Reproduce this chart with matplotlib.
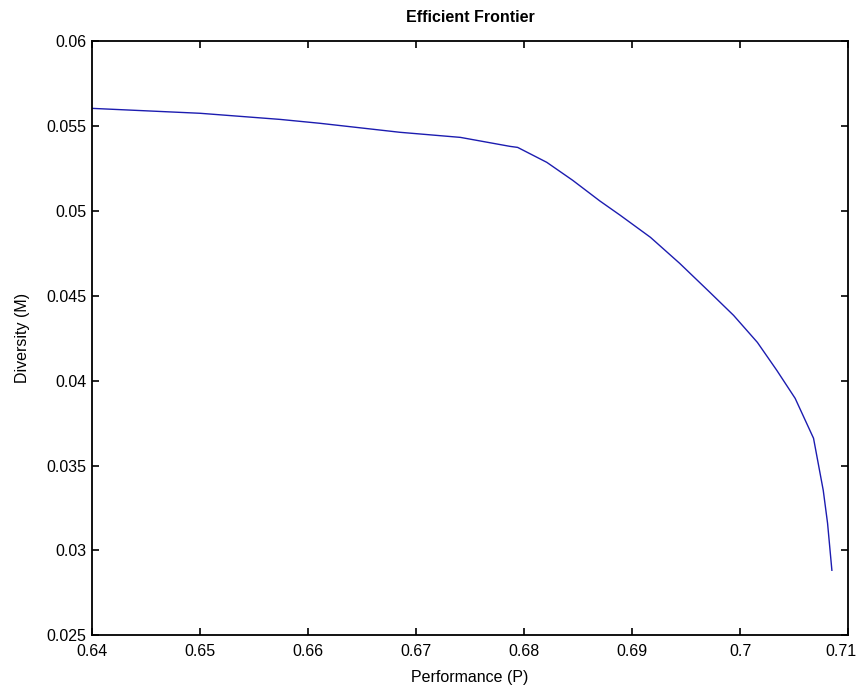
import matplotlib
matplotlib.use("Agg")
import matplotlib.pyplot as plt
from matplotlib.transforms import ScaledTranslation

# frontier
performance = [0.6400, 0.6500, 0.6574, 0.6611, 0.6685, 0.6741, 0.6787, 0.6794,
               0.6821, 0.6845, 0.6870, 0.6889, 0.6917, 0.6944, 0.6972, 0.6994,
               0.7016, 0.7034, 0.7051, 0.7068, 0.7077, 0.7081, 0.7085]
diversity = [0.05605, 0.05576, 0.05540, 0.05517, 0.05464, 0.05434, 0.05381, 0.05375,
             0.05287, 0.05181, 0.05060, 0.04975, 0.04845, 0.04692, 0.04521, 0.04385,
             0.04226, 0.04061, 0.03896, 0.03661, 0.03354, 0.03160, 0.02883]

xticks = [0.64, 0.65, 0.66, 0.67, 0.68, 0.69, 0.7, 0.71]
xticklabels = ["0.64", "0.65", "0.66", "0.67", "0.68", "0.69", "0.7", "0.71"]
yticks = [0.025, 0.03, 0.035, 0.04, 0.045, 0.05, 0.055, 0.06]
yticklabels = ["0.025", "0.03", "0.035", "0.04", "0.045", "0.05", "0.055", "0.06"]

plt.rcParams['font.family'] = ['Liberation Sans', 'DejaVu Sans']

fig = plt.figure(figsize=(8.61, 6.89), dpi=100)
ax = fig.add_axes([0.107, 0.078, 0.878, 0.862])
ax.plot(performance, diversity, color='#1c1cb0', linewidth=1.0)

ax.set_xlim(0.64, 0.71)
ax.set_ylim(0.025, 0.06)
ax.set_xticks(xticks)
ax.set_xticklabels(xticklabels)
ax.set_yticks(yticks)
ax.set_yticklabels(yticklabels)
ax.tick_params(direction='in', length=5, width=1.2, top=True, right=True,
               labelsize=11.5)
ax.tick_params(axis='x', pad=6)
ax.tick_params(axis='y', pad=4)
for s in ax.spines.values():
    s.set_linewidth(1.3)

# last x label sits a bit left so it stays inside the figure
last = ax.get_xticklabels()[-1]
last.set_transform(last.get_transform() + ScaledTranslation(-0.07, 0, fig.dpi_scale_trans))

ax.set_title("Efficient Frontier", fontsize=11.5, fontweight='bold', pad=14)
ax.set_xlabel("Performance (P)", fontsize=11.5, labelpad=8)
ax.set_ylabel("Diversity (M)", fontsize=11.5, labelpad=12)

fig.savefig("out.png", dpi=100)
